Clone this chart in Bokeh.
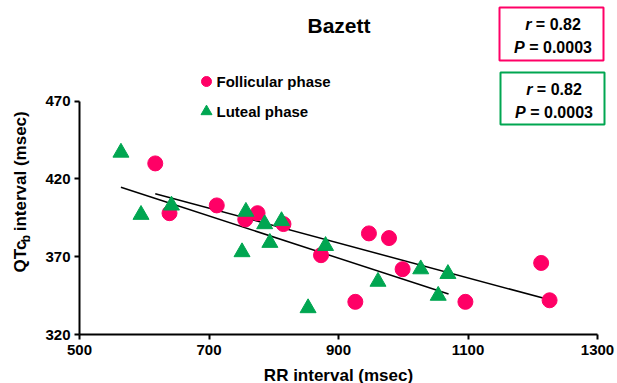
import math
from bokeh.plotting import figure
from bokeh.layouts import row, column
from bokeh.models import Label, BoxAnnotation, Range1d, FixedTicker
from bokeh.embed import file_html
from bokeh.resources import INLINE

# ---- data ----
fol_rr = [617, 639, 712, 756, 775, 815, 873, 926, 947, 978, 999, 1096, 1213, 1226]
fol_qtc = [430, 398, 403, 394, 398, 391, 371, 341, 385, 382, 362, 341, 366, 342]
lut_rr = [564, 595, 642, 751, 757, 786, 794, 812, 853, 880, 961, 1027, 1054, 1069]
lut_qtc = [437, 397, 403, 373, 399, 391, 379, 393, 337, 377, 354, 362, 345, 359]
fol_fit_x = [617, 1226]
fol_fit_y = [410.5, 342.3]
lut_fit_x = [564, 1070]
lut_fit_y = [414.7, 346.0]
x_ticks = [500, 700, 900, 1100, 1300]
y_ticks = [320, 370, 420, 470]
stats_fol = ("r", "= 0.82", "P", "= 0.0003")
stats_lut = ("r", "= 0.82", "P", "= 0.0003")

PINK = "#ff0066"
GREEN = "#00a651"
FONT = "Liberation Sans"

W, H = 617, 383
YLAB_W = 40
MAIN_H = 366
LEFT, BOTTOM_PX = 79, 334
XS = (597 - LEFT) / 800.0
YS = (BOTTOM_PX - 100.7) / 150.0
X_END = 500 + (W - LEFT) / XS
Y_END = 320 + BOTTOM_PX / YS


def dx(px):
    return 500 + (px - LEFT) / XS


def dy(py):
    return 320 + (BOTTOM_PX - py) / YS


def blank(width, height, xr, yr):
    f = figure(width=width, height=height, output_backend="svg", toolbar_location=None,
               x_range=Range1d(*xr), y_range=Range1d(*yr),
               x_axis_location=None, y_axis_location=None, min_border=0)
    f.outline_line_color = None
    f.grid.visible = False
    f.background_fill_color = "white"
    f.border_fill_color = "white"
    return f


def lab(fig, text, x, y, size, style="bold", align="left", baseline="middle", angle=0.0, color="black"):
    fig.add_layout(Label(x=x, y=y, text=text, text_font=FONT, text_font_style=style,
                         text_font_size=f"{size}px", text_align=align, text_baseline=baseline,
                         angle=angle, text_color=color))


p = figure(width=W - YLAB_W, height=MAIN_H, output_backend="svg", toolbar_location=None,
           x_range=Range1d(500, X_END), y_range=Range1d(320, Y_END),
           min_border_left=LEFT - YLAB_W, min_border_right=0, min_border_top=0,
           min_border_bottom=MAIN_H - BOTTOM_PX)
p.outline_line_color = None
p.grid.visible = False
p.background_fill_color = "white"
p.border_fill_color = "white"

for ax, ticks, bounds in ((p.xaxis, x_ticks, (500, 1300)), (p.yaxis, y_ticks, (320, 470))):
    ax.ticker = FixedTicker(ticks=ticks)
    ax.bounds = bounds
    ax.axis_line_width = 2
    ax.axis_line_color = "black"
    ax.major_tick_line_width = 2
    ax.major_tick_line_color = "black"
    ax.major_tick_out = 5
    ax.major_tick_in = 0
    ax.minor_tick_line_color = None
    ax.major_label_text_font = FONT
    ax.major_label_text_font_style = "bold"
    ax.major_label_text_font_size = "15px"
    ax.major_label_text_color = "black"
p.yaxis.major_label_standoff = 4
p.xaxis.major_label_standoff = 5

# regression lines
p.line(fol_fit_x, fol_fit_y, line_color="black", line_width=1.5)
p.line(lut_fit_x, lut_fit_y, line_color="black", line_width=1.5)

# points
p.scatter(fol_rr, fol_qtc, marker="circle", size=15, fill_color=PINK, line_color=PINK)
p.scatter(lut_rr, lut_qtc, marker="triangle", size=16, fill_color=GREEN, line_color=GREEN)

# title
lab(p, "Bazett", dx(338.5), dy(24.5), 21, align="center")

# legend
p.scatter([dx(206)], [dy(81)], marker="circle", size=10, fill_color=PINK, line_color=PINK)
p.scatter([dx(206)], [dy(111)], marker="triangle", size=11, fill_color=GREEN, line_color=GREEN)
lab(p, "Follicular phase", dx(216), dy(81), 15)
lab(p, "Luteal phase", dx(216), dy(111), 15)

# stat boxes
SP = 0.278 * 16
for (x0, y0, x1, y1, col, st) in ((499, 7, 603, 60, PINK, stats_fol), (500, 72, 604, 124, GREEN, stats_lut)):
    p.add_layout(BoxAnnotation(left=dx(x0), right=dx(x1), top=dy(y0), bottom=dy(y1),
                               fill_alpha=0, line_color=col, line_alpha=1.0, line_width=2))
    cx = (x0 + x1) / 2 + 1.5
    s1 = cx - 3.475 * 16 / 2
    lab(p, st[0], dx(s1), dy(y0 + 16.7), 16, style="bold italic")
    lab(p, st[1], dx(s1 + 0.389 * 16 + SP), dy(y0 + 16.7), 16)
    s2 = cx - 4.865 * 16 / 2
    lab(p, st[2], dx(s2), dy(y0 + 40.0), 16, style="bold italic")
    lab(p, st[3], dx(s2 + 0.667 * 16 + SP), dy(y0 + 40.0), 16)

# y-axis title (with subscript) in a narrow strip, pixel coordinates
yl = blank(YLAB_W, MAIN_H, (0, YLAB_W), (MAIN_H, 0))
ystart = 298.0
qtc_w = 1.945 * 17
b_w = 0.611 * 12
lab(yl, "QTc", 19.8, ystart, 17, angle=math.pi / 2)
lab(yl, "b", 25.0, ystart - qtc_w, 12, angle=math.pi / 2)
lab(yl, "interval (msec)", 19.8, ystart - qtc_w - b_w - 0.278 * 17, 17, angle=math.pi / 2)

# x-axis title strip
XL_H = H - MAIN_H
xl = blank(W, XL_H, (0, W), (H, MAIN_H))
lab(xl, "RR interval (msec)", 338, 374.5, 17, align="center")

layout = column(row(yl, p, spacing=0), xl, spacing=0)
open("out.html", "w").write(file_html(layout, INLINE))
